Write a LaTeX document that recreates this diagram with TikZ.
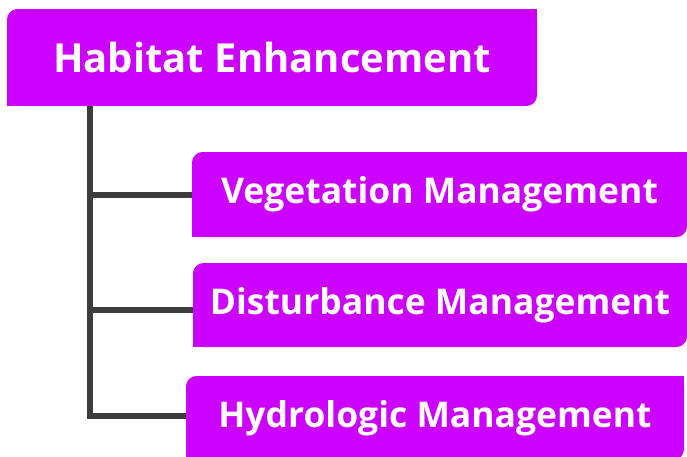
\documentclass[tikz,border=0pt]{standalone}
\usepackage{fontspec}
\setmainfont{Open Sans}
\usepackage{tikz}

\definecolor{boxmagenta}{RGB}{204,0,255}
\definecolor{linkgray}{RGB}{60,60,60}

\tikzset{
  boxnode/.style={fill=boxmagenta, text=white, font=\bfseries, rounded corners=8pt, inner sep=0pt, align=center},
  link/.style={draw=linkgray, line width=4.5pt}
}

\begin{document}
\begin{tikzpicture}[x=0.75pt,y=0.75pt,yscale=-1,xscale=1]
\useasboundingbox (0,0) rectangle (687,457);

%Root box
\node [boxnode, minimum width=397.5pt, minimum height=72.75pt, font=\fontsize{30}{36}\selectfont\bfseries] (hab) at (272,57.5) {Habitat Enhancement};
%Child boxes
\node [boxnode, minimum width=371.25pt, minimum height=63.75pt, font=\fontsize{26.6}{32}\selectfont\bfseries] (veg) at (439.5,194.5) {Vegetation Management};
\node [boxnode, minimum width=370.5pt, minimum height=63pt, font=\fontsize{26.6}{32}\selectfont\bfseries] (dis) at (440,305) {Disturbance Management};
\node [boxnode, minimum width=373.5pt, minimum height=63pt, font=\fontsize{26.6}{32}\selectfont\bfseries] (hyd) at (435,418) {Hydrologic Management};

%sharp corners
\fill [boxmagenta] (hab.north east) rectangle +(-16,16);
\fill [boxmagenta] (hab.south west) rectangle +(16,-16);
\foreach \n in {veg,dis,hyd}{
  \fill [boxmagenta] (\n.north east) rectangle +(-16,16);
  \fill [boxmagenta] (\n.south west) rectangle +(16,-16);
}

%Connectors
\coordinate (trunk) at ([xshift=62.25pt]hab.south west);
\draw [link] (trunk) |- (veg.west);
\draw [link] (trunk) |- ([yshift=3.75pt]dis.west);
\draw [link] (trunk) |- ([yshift=-1.5pt]hyd.west);

\end{tikzpicture}
\end{document}
